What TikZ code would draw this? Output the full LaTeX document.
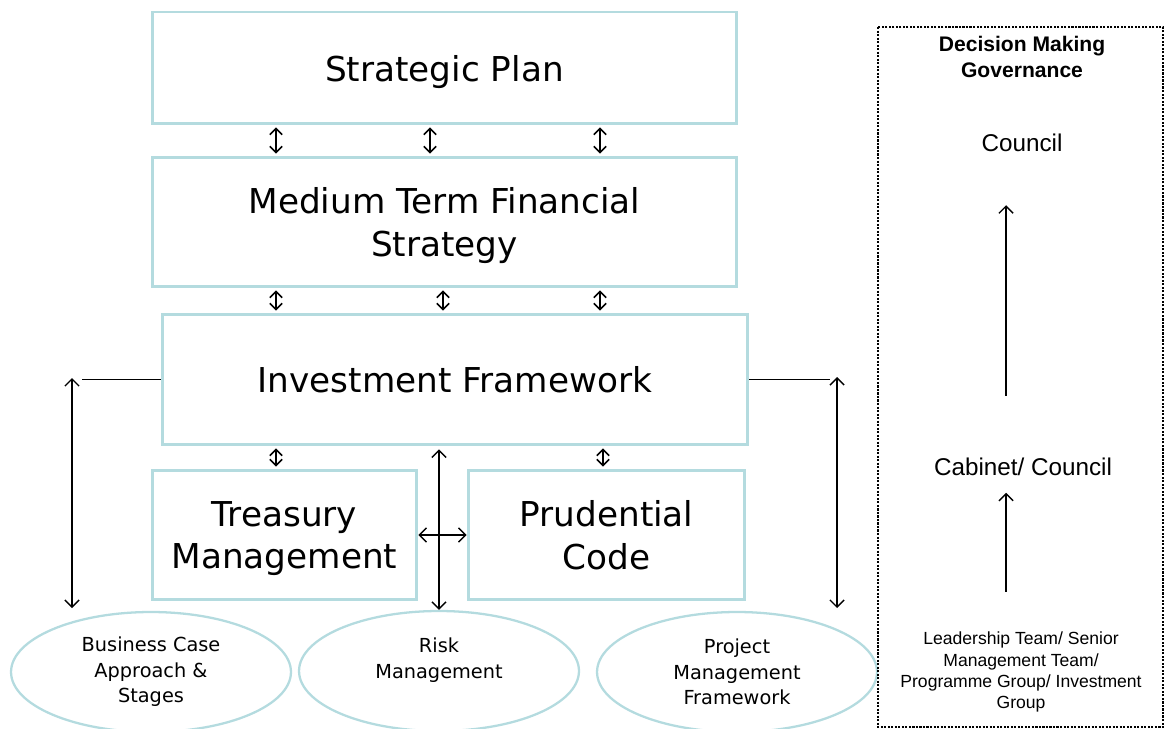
\documentclass[tikz,border=0pt]{standalone}
\usepackage{fontspec}
\setmainfont{DejaVu Sans}
\newfontfamily\arial{Liberation Sans}
\usetikzlibrary{arrows.meta,shapes.geometric}
\definecolor{boxline}{RGB}{180,219,223}
\newcommand{\boxfont}  {\fontsize{19.5}{24}\selectfont}
\newcommand{\ovfont}   {\fontsize{11}{14.5}\selectfont}
\newcommand{\govfont}  {\arial\fontsize{13.8}{16}\selectfont}
\newcommand{\ltfont}   {\arial\fontsize{10}{12}\selectfont}

\begin{document}
\begin{tikzpicture}[x=0.02cm,y=-0.02cm,
   frame/.style={draw=boxline,line width=1.7pt,align=center,font=\boxfont,inner sep=0pt,text depth=0pt},
   oval/.style={ellipse,draw=boxline,line width=1.3pt,minimum width=5.6cm,minimum height=2.4cm,align=center,font=\ovfont,inner sep=0pt},
   link/.style={{Straight Barb[length=3.5pt,width=7pt]}-{Straight Barb[length=3.5pt,width=7pt]},line width=0.9pt,shorten <=0.04cm,shorten >=0.04cm},
   bigarrow/.style={{Straight Barb[length=4pt,width=8pt]}-{Straight Barb[length=4pt,width=8pt]},line width=0.8pt},
   uparrow/.style={-{Straight Barb[length=4pt,width=8pt]},line width=0.8pt},
   gov/.style={align=center,inner sep=0pt}]
   \useasboundingbox (0,0) rectangle (1165,729);
   \node[frame,minimum width=11.7cm,minimum height=2.24cm]  (sp)   at (444.5,68)  {Strategic Plan};
   \node[frame,minimum width=11.7cm,minimum height=2.6cm]   (mtfs) at (444.5,222) {Medium Term Financial\\Strategy};
   \node[frame,minimum width=11.72cm,minimum height=2.62cm] (if)   at (455,379.5) {Investment Framework};
   \node[frame,minimum width=5.3cm,minimum height=2.6cm]    (tm)   at (284.5,535) {Treasury\\Management};
   \node[frame,minimum width=5.54cm,minimum height=2.6cm]   (pc)   at (606.5,535) {Prudential\\Code};
   \node[oval] (bc) at (151,672) {Business Case\\Approach \&\\Stages};
   \node[oval] (rm) at (439,671) {Risk\\Management\\\mbox{}};
   \node[oval] (pm) at (737,672) {Project\\Management\\Framework};
   \foreach \x in {276,430,600} \draw[link] (\x,0 |- sp.south) -- (\x,0 |- mtfs.north);
   \foreach \x in {276,443,600} \draw[link] (\x,0 |- mtfs.south) -- (\x,0 |- if.north);
   \draw[link] (276,0 |- if.south) -- (276,0 |- tm.north);
   \draw[link] (603,0 |- if.south) -- (603,0 |- pc.north);
   \draw[bigarrow,shorten <=0.06cm] (if.south -| rm.north) -- (rm.north);
   \draw[bigarrow] (tm.east) -- (pc.west);
   \coordinate (lhook) at (82,379.5);
   \coordinate (ltop)  at (72,378);
   \coordinate (lbot)  at (72,608);
   \coordinate (rhook) at (830,379.5);
   \coordinate (rtop)  at (837,377);
   \coordinate (rbot)  at (837,608);
   \draw[line width=0.8pt] (if.west) -- (lhook);
   \draw[line width=0.8pt] (if.east) -- (rhook);
   \draw[bigarrow] (ltop) -- (lbot);
   \draw[bigarrow] (rtop) -- (rbot);
   \draw[dash pattern=on 1.2pt off 0.8pt,line width=0.7pt] (878,27) rectangle (1163,727);
   \node[gov,font=\arial\bfseries\fontsize{12}{14.7}\selectfont] (dmg) at (1022,57) {Decision Making\\Governance};
   \node[gov,font=\govfont] (cn)  at (1022,143) {Council};
   \node[gov,font=\govfont] (cab) at (1023,467) {Cabinet/ Council};
   \node[gov,font=\ltfont]  (lt)  at (1021,672) {Leadership Team/ Senior\\Management Team/\\Programme Group/ Investment\\Group};
   \coordinate (gx) at (1006,0);
   \draw[uparrow,shorten <=1.24cm,shorten >=1.06cm] (cab.north -| gx) -- (cn.south -| gx);
   \draw[uparrow,shorten <=0.8cm,shorten >=0.33cm] (lt.north -| gx) -- (cab.south -| gx);
\end{tikzpicture}
\end{document}
